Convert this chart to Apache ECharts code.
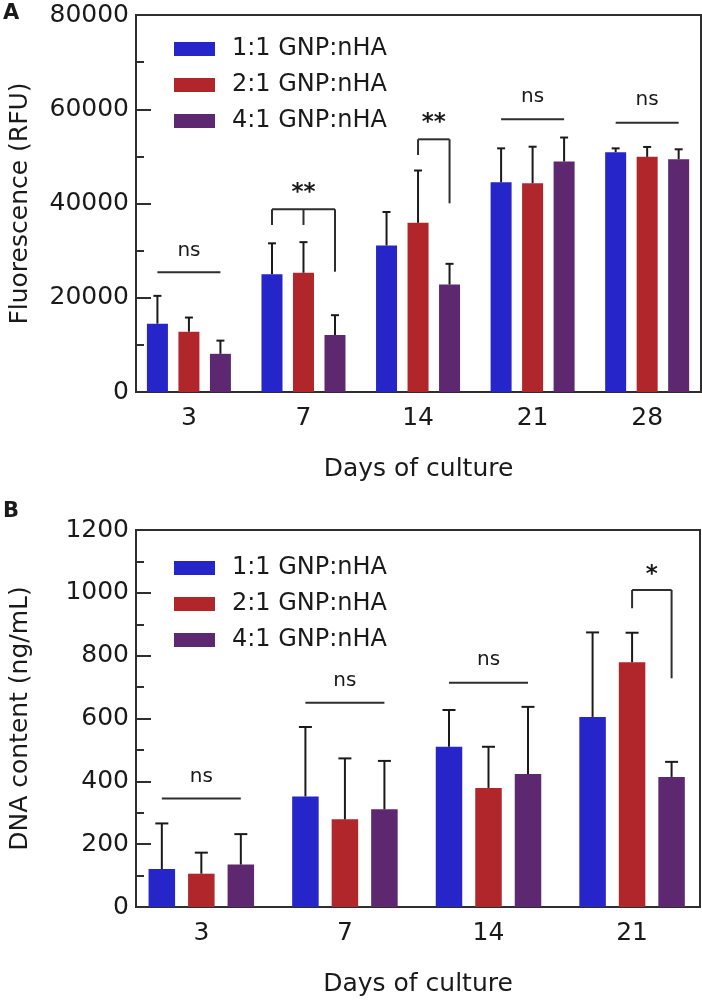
<!DOCTYPE html>
<html>
<head>
<meta charset="utf-8">
<script src="https://cdn.jsdelivr.net/npm/echarts@6/dist/echarts.min.js"></script>
<style>
  html, body { margin: 0; padding: 0; background: #fff; }
  #chart { width: 702px; height: 1001px; }
</style>
</head>
<body>
<div id="chart"></div>
<script>
// groups and colours
const groups = ['1:1 GNP:nHA', '2:1 GNP:nHA', '4:1 GNP:nHA'];
const colors = ['#2525C9', '#B0262A', '#5E2871'];

// panel A - fluorescence (RFU)
const daysA = ['3', '7', '14', '21', '28'];
const blueA = [14500, 25000, 31100, 44500, 50900];
const blueErrA = [5900, 6550, 7100, 7200, 800];
const redA = [12800, 25300, 35900, 44300, 49900];
const redErrA = [3000, 6500, 11100, 7750, 2100];
const purpleA = [8100, 12100, 22800, 48900, 49400];
const purpleErrA = [2800, 4200, 4400, 5100, 2100];

// panel B - DNA content (ng/mL)
const daysB = ['3', '7', '14', '21'];
const blueB = [121, 352, 510, 605];
const blueErrB = [145, 221, 117, 269];
const redB = [106, 279, 379, 779];
const redErrB = [67, 194, 131, 94];
const purpleB = [135, 311, 423, 414];
const purpleErrB = [97, 154, 214, 48];

// significance marks: label, horizontal line value, text value, legs [bar, bottom value]
const sigLabelA = ['ns', '**', '**', 'ns', 'ns'];
const sigLineA = [25400, 38770, 53620, 57870, 57150];
const sigTextA = [29900, 43500, 58250, 62540, 62110];
const sigLegsA = [null, [[0, 35440], [1, 35440], [2, 25530]], [[1, 50290], [2, 40040]], null, null];

const sigLabelB = ['ns', 'ns', 'ns', '*'];
const sigLineB = [345, 650, 714, 1009];
const sigTextB = [413, 719, 786, 1076];
const sigLegsB = [null, null, null, [[1, 951], [2, 728]]];

const FONT = 'DejaVu Sans';
const INK = '#1a1a1a';
const AXIS = '#2e2e2e';

const panels = [
  { days: daysA, means: [blueA, redA, purpleA], errs: [blueErrA, redErrA, purpleErrA],
    bw: 21, step: 31.5, cap: 8,
    sig: { label: sigLabelA, line: sigLineA, text: sigTextA, legs: sigLegsA } },
  { days: daysB, means: [blueB, redB, purpleB], errs: [blueErrB, redErrB, purpleErrB],
    bw: 26.5, step: 39.5, cap: 13,
    sig: { label: sigLabelB, line: sigLineB, text: sigTextB, legs: sigLegsB } }
];

function xAxisFor(p, min, max, days) {
  return {
    type: 'value', gridIndex: p, min: min, max: max,
    name: 'Days of culture', nameLocation: 'middle', nameGap: 65,
    nameTextStyle: { fontFamily: FONT, fontSize: 25, color: INK },
    axisLine: { show: true, onZero: false, lineStyle: { color: AXIS, width: 2 } },
    axisTick: { show: false },
    splitLine: { show: false },
    axisLabel: {
      customValues: days.map((d, i) => i),
      formatter: v => days[Math.round(v)],
      fontFamily: FONT, fontSize: 25, color: INK, margin: 14
    }
  };
}

function yAxisFor(p, max, interval, name) {
  return {
    type: 'value', gridIndex: p, min: 0, max: max, interval: interval,
    name: name, nameLocation: 'middle', nameGap: 103, nameMoveOverlap: false,
    nameTextStyle: { fontFamily: FONT, fontSize: 25, color: INK },
    axisLine: { show: true, onZero: false, lineStyle: { color: AXIS, width: 2 } },
    axisTick: { show: true, inside: true, length: 15, lineStyle: { color: AXIS, width: 2 } },
    minorTick: { show: true, splitNumber: 2, length: 8, lineStyle: { color: AXIS, width: 2 } },
    splitLine: { show: false },
    axisLabel: { fontFamily: FONT, fontSize: 25, color: INK, margin: 7, formatter: v => String(v) }
  };
}

const series = [];
panels.forEach((pn, p) => {
  pn.means.forEach((vals, k) => {
    series.push({
      type: 'bar', name: groups[k], xAxisIndex: p, yAxisIndex: p,
      data: vals.map((v, i) => [i, v]),
      barWidth: pn.bw, barGap: ((pn.step - pn.bw) / pn.bw * 100) + '%',
      itemStyle: { color: colors[k] }, z: 2
    });
  });
  // error bars (upper only)
  pn.means.forEach((vals, k) => {
    const off = (k - 1) * pn.step;
    series.push({
      type: 'custom', xAxisIndex: p, yAxisIndex: p, z: 3, silent: true,
      encode: { x: 0, y: 1 },
      data: vals.map((v, i) => [i, v, pn.errs[k][i]]),
      renderItem: function (params, api) {
        const x = api.coord([api.value(0), 0])[0] + off;
        const yb = api.coord([0, api.value(1)])[1];
        const yt = api.coord([0, api.value(1) + api.value(2)])[1];
        const st = { stroke: INK, lineWidth: 2 };
        return { type: 'group', children: [
          { type: 'line', shape: { x1: x, y1: yb, x2: x, y2: yt }, style: st },
          { type: 'line', shape: { x1: x - pn.cap / 2, y1: yt, x2: x + pn.cap / 2, y2: yt }, style: st }
        ] };
      }
    });
  });
  // significance marks
  const sg = pn.sig;
  series.push({
    type: 'custom', xAxisIndex: p, yAxisIndex: p, z: 3, silent: true,
    encode: { x: 0, y: 1 },
    data: pn.days.map((d, i) => [i, sg.line[i]]),
    renderItem: function (params, api) {
      const i = params.dataIndex;
      const cx = api.coord([i, 0])[0];
      const bx = b => cx + (b - 1) * pn.step;
      const yl = api.coord([0, sg.line[i]])[1];
      const st = { stroke: AXIS, lineWidth: 2 };
      const kids = [];
      const legs = sg.legs[i];
      let x1 = bx(0), x2 = bx(2);
      if (legs) {
        x1 = bx(legs[0][0]);
        x2 = bx(legs[legs.length - 1][0]);
        legs.forEach(l => {
          kids.push({ type: 'line', shape: { x1: bx(l[0]), y1: yl, x2: bx(l[0]), y2: api.coord([0, l[1]])[1] }, style: st });
        });
      }
      kids.push({ type: 'line', shape: { x1: x1, y1: yl, x2: x2, y2: yl }, style: st });
      const star = sg.label[i].indexOf('*') >= 0;
      kids.push({
        type: 'text',
        style: {
          x: (x1 + x2) / 2, y: api.coord([0, sg.text[i]])[1] + (star ? 6 : 0),
          text: sg.label[i], align: 'center', verticalAlign: 'middle',
          fontFamily: FONT, fontSize: star ? 23 : 20, fontWeight: star ? 'bold' : 'normal', fill: INK
        }
      });
      return { type: 'group', children: kids };
    }
  });
});

function legendAt(top) {
  return {
    data: groups, orient: 'vertical', left: 169, top: top,
    itemWidth: 41, itemHeight: 14, itemGap: 12, icon: 'rect', selectedMode: false,
    textStyle: { fontFamily: FONT, fontSize: 24, color: INK, lineHeight: 24, padding: [0, 0, 0, 12] }
  };
}

const option = {
  animation: false,
  backgroundColor: '#fff',
  grid: [
    { left: 135, right: 1, top: 15, bottom: 609, show: true, borderColor: AXIS, borderWidth: 2, containLabel: false },
    { left: 135, right: 2, top: 530, bottom: 94, show: true, borderColor: AXIS, borderWidth: 2, containLabel: false }
  ],
  legend: [legendAt(32), legendAt(551)],
  xAxis: [xAxisFor(0, -0.462, 4.47, daysA), xAxisFor(1, -0.455, 3.473, daysB)],
  yAxis: [yAxisFor(0, 80000, 20000, 'Fluorescence (RFU)'), yAxisFor(1, 1200, 200, 'DNA content (ng/mL)')],
  graphic: [
    { type: 'text', left: 3, top: 3, style: { text: 'A', fontFamily: FONT, fontSize: 21, fontWeight: 'bold', fill: INK } },
    { type: 'text', left: 3, top: 501, style: { text: 'B', fontFamily: FONT, fontSize: 21, fontWeight: 'bold', fill: INK } }
  ],
  series: series
};

const myChart = echarts.init(document.getElementById('chart'));
myChart.setOption(option);
window.onresize = function () {
  myChart.resize();
};
</script>
</body>
</html>
